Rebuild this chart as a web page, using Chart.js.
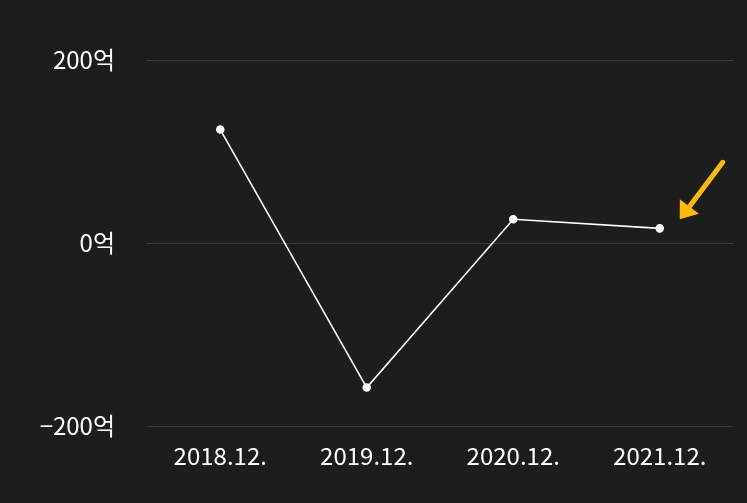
<!DOCTYPE html>
<html>
<head>
<meta charset="utf-8">
<script src="https://cdn.jsdelivr.net/npm/chart.js@4"></script>
<style>
  html, body { margin: 0; padding: 0; background: #1d1d1d; }
  #wrap { width: 747px; height: 503px; }
</style>
</head>
<body>
<div id="wrap"><canvas id="profitChart"></canvas></div>
<script>
// 데이터
const periods = ['2018.12.', '2019.12.', '2020.12.', '2021.12.'];
const profit = [124, -158, 26, 16]; // 억
const yTicks = [-200, 0, 200];

const FONT = '"Noto Sans CJK KR", "Noto Sans", sans-serif';

// 마지막 점을 가리키는 노란 화살표
const arrowPlugin = {
    id: 'arrow',
    afterDatasetsDraw(chart) {
        const meta = chart.getDatasetMeta(0);
        const last = meta.data[meta.data.length - 1];
        if (!last) return;
        const ctx = chart.ctx;
        const tip = { x: last.x + 20, y: last.y - 9 };
        const tail = { x: last.x + 63, y: last.y - 66 };
        const dx = tip.x - tail.x, dy = tip.y - tail.y;
        const len = Math.hypot(dx, dy);
        const ux = dx / len, uy = dy / len;
        const headLen = 16, headW = 12;
        const bx = tip.x - ux * headLen, by = tip.y - uy * headLen;
        ctx.save();
        ctx.strokeStyle = '#FFBB00';
        ctx.fillStyle = '#FFBB00';
        ctx.lineWidth = 5;
        ctx.lineCap = 'round';
        ctx.beginPath();
        ctx.moveTo(tail.x, tail.y);
        ctx.lineTo(bx + ux * 2, by + uy * 2);
        ctx.stroke();
        ctx.beginPath();
        ctx.moveTo(tip.x, tip.y);
        ctx.lineTo(bx - uy * headW, by + ux * headW);
        ctx.lineTo(bx + uy * headW, by - ux * headW);
        ctx.closePath();
        ctx.fill();
        ctx.restore();
    }
};

const ctx = document.getElementById('profitChart').getContext('2d');
new Chart(ctx, {
    type: 'line',
    data: {
        labels: periods,
        datasets: [{
            data: profit,
            borderColor: '#ffffff',
            borderWidth: 1.6,
            pointBackgroundColor: '#ffffff',
            pointBorderColor: '#ffffff',
            pointRadius: 3.5,
            tension: 0
        }]
    },
    options: {
        responsive: true,
        maintainAspectRatio: false,
        animation: false,
        layout: { padding: { top: 60, right: 14, bottom: 0, left: 0 } },
        plugins: {
            legend: { display: false },
            tooltip: { enabled: false }
        },
        scales: {
            x: {
                offset: true,
                grid: { display: false, drawTicks: false },
                border: { display: false },
                ticks: {
                    color: '#ffffff',
                    padding: 15,
                    font: { family: FONT, size: 24 }
                },
                afterFit(axis) { axis.height = 77; }
            },
            y: {
                min: -200,
                max: 200,
                afterBuildTicks(axis) { axis.ticks = yTicks.map(v => ({ value: v })); },
                grid: { color: '#3a3a3a', lineWidth: 1, drawTicks: false },
                border: { display: false },
                ticks: {
                    color: '#ffffff',
                    padding: 32,
                    font: { family: FONT, size: 24 },
                    callback: v => (v < 0 ? '−' + Math.abs(v) : v) + '억'
                },
                afterFit(axis) { axis.width = 147; }
            }
        }
    },
    plugins: [arrowPlugin]
});
</script>
</body>
</html>
